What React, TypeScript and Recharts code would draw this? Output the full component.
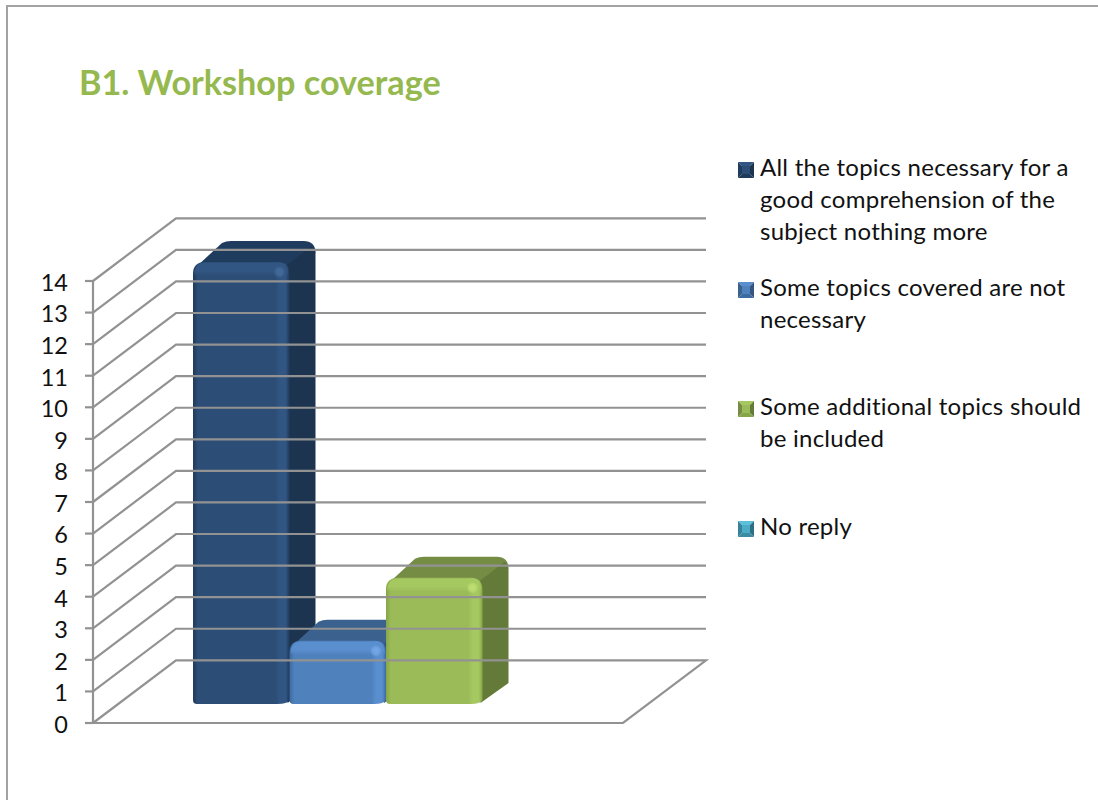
import * as React from "react";
import { BarChart, Bar, XAxis, YAxis, ReferenceLine, Legend } from "recharts";

const title = "B1. Workshop coverage";
const seriesKeys = ["allTopics", "notNecessary", "additional", "noReply"];
const seriesLabels = [
  "All the topics necessary for a\ngood comprehension of the\nsubject nothing more",
  "Some topics covered are not\nnecessary",
  "Some additional topics should\nbe included",
  "No reply",
];
const seriesValues = [14, 2, 4, 0];
const yTicks = [0, 1, 2, 3, 4, 5, 6, 7, 8, 9, 10, 11, 12, 13, 14];

const tones = [
  { id: "navy", front: "#2c4d75", edge: "#1f3a5a", light: "#315683", top: "#1f3b5e", side: "#1d3450", glint: "#456c9c" },
  { id: "blue", front: "#4f81bd", edge: "#3d6a9f", light: "#5a8fcf", top: "#3b618e", side: "#345680", glint: "#75a8e6" },
  { id: "green", front: "#9bbb59", edge: "#86a548", light: "#a5c860", top: "#748c43", side: "#647a38", glint: "#c0e074" },
  { id: "teal", front: "#4bacc6", edge: "#3b8ba1", light: "#5cc0da", top: "#38819a", side: "#2f6f85", glint: "#8fdcf0" },
];

const chartData = [
  Object.fromEntries([["name", "B1"], ...seriesKeys.map((k, i) => [k, seriesValues[i]])]),
];

const GRID = "#929292";
const FONT = "Lato, sans-serif";

// the floor is skewed back, everything on the wall sits at this offset
const WALL_DX = 83;
const WALL_DY = -62.7;
// bars stand part way into the floor and have this much depth
const BAR_DX = 28;
const BAR_DY = -19;
const DEPTH_X = 26;
const DEPTH_Y = -21;

const WallLine = (props: any) => {
  const { x1, x2, y1, value } = props;
  const y = y1;
  const floor = value === 0;
  const d = floor
    ? `M${x1},${y} L${x1 + WALL_DX},${y + WALL_DY} L${x2 + WALL_DX},${y + WALL_DY} L${x2},${y} Z`
    : `M${x1},${y} L${x1 + WALL_DX},${y + WALL_DY} L${x2 + WALL_DX},${y + WALL_DY}`;
  return <path d={d} fill="none" stroke={GRID} strokeWidth={2.2} />;
};

const Block = ({ x, y, width, height, tone }: any) => {
  if (!height || height <= 0) return null;
  const X = x + BAR_DX;
  const Y = y + BAR_DY;
  const w = width;
  const h = height;
  const r = 12;
  const right = X + w;
  const topFace = `M${X + 3},${Y + 5} L${X + DEPTH_X + 3},${Y + DEPTH_Y + 2} Q${X + DEPTH_X + 7},${Y + DEPTH_Y} ${X + DEPTH_X + 12},${Y + DEPTH_Y} L${right + DEPTH_X - 12},${Y + DEPTH_Y} Q${right + DEPTH_X},${Y + DEPTH_Y} ${right + DEPTH_X},${Y + DEPTH_Y + 12} L${right},${Y + 14} Z`;
  const sideFace = `M${right - 5},${Y + 5} L${right + DEPTH_X - 4},${Y + DEPTH_Y + 5} Q${right + DEPTH_X},${Y + DEPTH_Y + 8} ${right + DEPTH_X},${Y + DEPTH_Y + 13} L${right + DEPTH_X},${Y + h + DEPTH_Y} L${right - 2},${Y + h - 1} Z`;
  const frontFace = `M${X},${Y + r} Q${X},${Y} ${X + r},${Y} L${right - r},${Y} Q${right},${Y} ${right},${Y + r} L${right},${Y + h - 4} Q${right - 2},${Y + h} ${right - 12},${Y + h} L${X + 4},${Y + h} Q${X},${Y + h} ${X},${Y + h - 4} Z`;
  return (
    <g>
      <defs>
        <linearGradient id={`face-${tone.id}`} x1="0" y1="0" x2="1" y2="0">
          <stop offset="0" stopColor={tone.edge} />
          <stop offset="0.05" stopColor={tone.front} />
          <stop offset="0.85" stopColor={tone.front} />
          <stop offset="0.9" stopColor={tone.light} />
          <stop offset="0.96" stopColor={tone.light} />
          <stop offset="1" stopColor={tone.edge} />
        </linearGradient>
        <linearGradient id={`bevel-${tone.id}`} x1="0" y1="0" x2="0" y2="1">
          <stop offset="0" stopColor={tone.light} />
          <stop offset="0.6" stopColor={tone.light} />
          <stop offset="1" stopColor={tone.light} stopOpacity={0} />
        </linearGradient>
        <radialGradient id={`glint-${tone.id}`}>
          <stop offset="0" stopColor={tone.glint} />
          <stop offset="0.6" stopColor={tone.glint} stopOpacity={0.7} />
          <stop offset="1" stopColor={tone.glint} stopOpacity={0} />
        </radialGradient>
      </defs>
      <path d={topFace} fill={tone.top} />
      <path d={sideFace} fill={tone.side} />
      <path d={frontFace} fill={`url(#face-${tone.id})`} />
      <path
        d={`M${X + 1},${Y + 14} Q${X + 1},${Y + 1} ${X + r + 1},${Y + 1} L${right - r - 1},${Y + 1} Q${right - 1},${Y + 1} ${right - 1},${Y + 14} Z`}
        fill={`url(#bevel-${tone.id})`}
      />
      <circle cx={right - 10} cy={Y + 10} r={6} fill={`url(#glint-${tone.id})`} />
    </g>
  );
};

const LegendMark = ({ tone }: any) => (
  <svg width={16} height={16} style={{ position: "absolute", left: 0, top: 0 }}>
    <polygon points="0,0 16,0 8,8" fill={tone.light} />
    <polygon points="0,0 8,8 0,16" fill={tone.top} />
    <polygon points="16,0 8,8 16,16" fill={tone.side} />
    <polygon points="0,16 8,8 16,16" fill={tone.edge} />
    <rect x={4} y={4} width={8} height={8} fill={tone.front} />
  </svg>
);

// rows are evenly spaced down the right-hand side, each with its own wrapped label
const LegendRows = ({ payload }: any) => (
  <div style={{ position: "relative", width: 0, height: 0 }}>
    {(payload || []).map((entry: any, i: number) => (
      <div key={entry.value} style={{ position: "absolute", left: 0, top: i * 119.7, width: 350 }}>
        <div style={{ position: "absolute", left: 0, top: 2 }}>
          <LegendMark tone={tones[i]} />
        </div>
        <div
          style={{
            position: "absolute",
            left: 22,
            top: -9,
            width: 340,
            fontFamily: FONT,
            fontSize: 24,
            letterSpacing: 0.25,
            lineHeight: "32px",
            color: "#111",
            whiteSpace: "pre-line",
          }}
        >
          {entry.value}
        </div>
      </div>
    ))}
  </div>
);

export default function App() {
  return (
    <div style={{ position: "absolute", left: 0, top: 0, width: 1098, height: 800, background: "#fff", overflow: "hidden" }}>
      <div style={{ position: "absolute", left: 6, top: 5, right: -4, bottom: -4, borderLeft: "2px solid #a3a3a3", borderTop: "2px solid #a3a3a3" }} />
      <BarChart
        width={1098}
        height={800}
        data={chartData}
        margin={{ top: 281, right: 475, bottom: 77, left: 53 }}
        barSize={96.5}
        barGap={0}
        barCategoryGap={0}
        style={{ position: "absolute", left: 0, top: 0 }}
      >
        <text x={79} y={95} fontFamily={FONT} fontWeight={700} fontSize={34.2} fill="#95b94f">
          {title}
        </text>
        <XAxis dataKey="name" height={0} tick={false} tickLine={false} axisLine={false} />
        <YAxis
          type="number"
          domain={[0, 14]}
          ticks={yTicks}
          interval={0}
          width={40}
          tickSize={8}
          tickMargin={17}
          axisLine={{ stroke: GRID, strokeWidth: 2.2 }}
          tickLine={{ stroke: GRID, strokeWidth: 2.2 }}
          tick={{ fill: "#111", fontFamily: FONT, fontSize: 23.5, dy: 1.5 }}
        />
        {yTicks.map((v) => (
          <ReferenceLine key={v} y={v} ifOverflow="visible" shape={(p: any) => <WallLine {...p} value={v} />} />
        ))}
        {seriesKeys.map((key, i) => (
          <Bar
            key={key}
            dataKey={key}
            name={seriesLabels[i]}
            fill={tones[i].front}
            isAnimationActive={false}
            shape={(p: any) => <Block {...p} tone={tones[i]} />}
          />
        ))}
        <Legend
          layout="vertical"
          align="right"
          verticalAlign="top"
          itemSorter={null}
          content={<LegendRows />}
          wrapperStyle={{ left: 738, top: 160, width: 0, height: 0, right: "auto", margin: 0 }}
        />
      </BarChart>
    </div>
  );
}
